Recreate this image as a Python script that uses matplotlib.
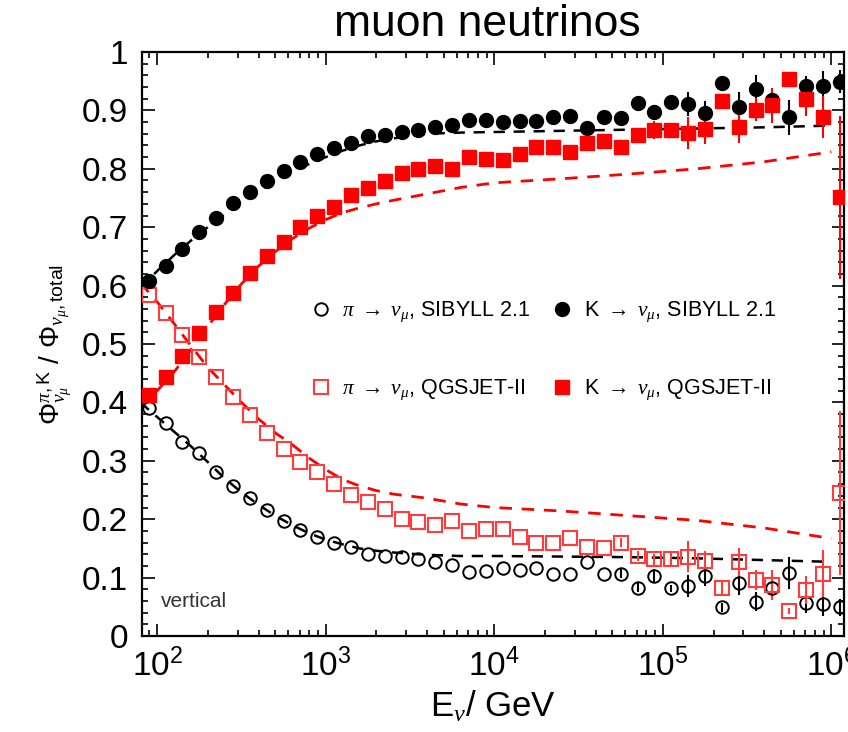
import numpy as np
import matplotlib
matplotlib.use("Agg")
import matplotlib.pyplot as plt
from matplotlib.lines import Line2D
from matplotlib.ticker import LogLocator, MultipleLocator, FixedLocator

plt.rcParams['font.family'] = ['Liberation Sans', 'DejaVu Sans']
plt.rcParams['mathtext.fontset'] = 'custom'
plt.rcParams['mathtext.rm'] = 'Liberation Sans'
plt.rcParams['mathtext.it'] = 'Liberation Serif:italic'
plt.rcParams['mathtext.sf'] = 'Liberation Sans'
plt.rcParams['mathtext.bf'] = 'Liberation Sans:bold'

# bin centres (GeV)
energy = [89.1, 112.2, 141.3, 177.8, 223.9, 281.8, 354.8, 446.7, 562.3, 707.9,
          891.3, 1122, 1413, 1778, 2239, 2818, 3548, 4467, 5623, 7079,
          8913, 11220, 14125, 17783, 22387, 28184, 35481, 44668, 56234, 70795,
          89125, 112202, 141254, 177828, 223872, 281838, 354813, 446684, 562341, 707946,
          891251, 1122018]

k_sibyll = [0.608, 0.634, 0.662, 0.692, 0.716, 0.742, 0.760, 0.779, 0.797, 0.812,
            0.825, 0.835, 0.844, 0.856, 0.858, 0.863, 0.866, 0.871, 0.875, 0.884,
            0.884, 0.880, 0.882, 0.881, 0.888, 0.890, 0.870, 0.889, 0.887, 0.913,
            0.897, 0.914, 0.911, 0.896, 0.947, 0.905, 0.937, 0.917, 0.888, 0.941,
            0.941, 0.949]
k_sibyll_err = [0, 0, 0, 0, 0, 0, 0, 0, 0, 0,
                0, 0, 0, 0, 0, 0, 0, 0, 0, 0,
                0, 0, 0, 0, 0, 0, 0, 0, 0.008, 0.008,
                0.010, 0.008, 0.020, 0.020, 0.010, 0.027, 0.023, 0.012, 0.030, 0.018,
                0.026, 0.020]

k_qgsjet = [0.413, 0.444, 0.479, 0.518, 0.554, 0.588, 0.621, 0.651, 0.675, 0.700,
            0.719, 0.735, 0.755, 0.767, 0.779, 0.793, 0.800, 0.805, 0.799, 0.820,
            0.816, 0.815, 0.826, 0.837, 0.837, 0.829, 0.844, 0.848, 0.837, 0.858,
            0.866, 0.866, 0.861, 0.869, 0.916, 0.871, 0.901, 0.909, 0.953, 0.919,
            0.889, 0.751]
k_qgsjet_err = [0, 0, 0, 0, 0, 0, 0, 0, 0, 0,
                0, 0, 0, 0, 0, 0, 0, 0, 0, 0,
                0, 0, 0, 0, 0, 0, 0, 0, 0.008, 0.010,
                0.015, 0.013, 0.027, 0.026, 0.012, 0.027, 0.020, 0.030, 0.006, 0.028,
                0.036, 0.140]

pi_sibyll = [0.390, 0.364, 0.333, 0.313, 0.280, 0.256, 0.237, 0.216, 0.197, 0.182,
             0.169, 0.160, 0.152, 0.140, 0.137, 0.135, 0.131, 0.126, 0.122, 0.110,
             0.112, 0.116, 0.113, 0.116, 0.107, 0.106, 0.127, 0.106, 0.107, 0.083,
             0.102, 0.082, 0.086, 0.102, 0.049, 0.091, 0.059, 0.082, 0.108, 0.056,
             0.055, 0.049]
pi_sibyll_err = [0, 0, 0, 0, 0, 0, 0, 0, 0, 0,
                 0, 0, 0, 0, 0, 0, 0, 0, 0, 0,
                 0, 0, 0, 0, 0, 0, 0, 0, 0.007, 0.008,
                 0.012, 0.006, 0.019, 0.016, 0.008, 0.021, 0.017, 0.021, 0.027, 0.016,
                 0.021, 0.015]

pi_qgsjet = [0.584, 0.553, 0.515, 0.478, 0.444, 0.410, 0.378, 0.347, 0.321, 0.298,
             0.280, 0.260, 0.241, 0.230, 0.217, 0.201, 0.196, 0.190, 0.197, 0.179,
             0.183, 0.183, 0.170, 0.160, 0.160, 0.167, 0.153, 0.150, 0.160, 0.137,
             0.131, 0.131, 0.136, 0.129, 0.082, 0.126, 0.096, 0.087, 0.043, 0.078,
             0.107, 0.245]
pi_qgsjet_err = [0, 0, 0, 0, 0, 0, 0, 0, 0, 0,
                 0, 0, 0, 0, 0, 0, 0, 0, 0, 0,
                 0, 0, 0, 0, 0, 0, 0, 0, 0.007, 0.008,
                 0.010, 0.013, 0.027, 0.017, 0.014, 0.024, 0.017, 0.026, 0.005, 0.024,
                 0.041, 0.140]

# model curves (dashed)
model_energy = [79.4, 100, 125.9, 158.5, 199.5, 251.2, 316.2, 398.1, 501.2, 631.0,
                794.3, 1000, 1259, 1585, 1995, 2512, 3981, 6310, 10000, 25119,
                63096, 158489, 398107, 1000000]
model_k_sibyll = [0.595, 0.625, 0.652, 0.677, 0.700, 0.722, 0.743, 0.762, 0.779, 0.795,
                  0.808, 0.820, 0.831, 0.840, 0.847, 0.852, 0.860, 0.862, 0.863, 0.865,
                  0.867, 0.869, 0.871, 0.874]
model_k_qgsjet = [0.390, 0.420, 0.452, 0.490, 0.530, 0.568, 0.603, 0.633, 0.658, 0.680,
                  0.698, 0.713, 0.725, 0.733, 0.740, 0.746, 0.757, 0.768, 0.776, 0.783,
                  0.791, 0.800, 0.812, 0.829]
model_pi_sibyll = [0.400, 0.375, 0.350, 0.325, 0.298, 0.270, 0.246, 0.225, 0.206, 0.190,
                   0.176, 0.165, 0.157, 0.150, 0.146, 0.143, 0.139, 0.137, 0.137, 0.136,
                   0.135, 0.133, 0.130, 0.127]
model_pi_qgsjet = [0.605, 0.572, 0.535, 0.497, 0.460, 0.430, 0.400, 0.372, 0.348, 0.328,
                   0.305, 0.285, 0.268, 0.257, 0.249, 0.243, 0.236, 0.226, 0.220, 0.214,
                   0.206, 0.198, 0.185, 0.167]

RED = '#ff0000'
RED_OPEN = '#ff3c3c'

fig = plt.figure(figsize=(8.48, 7.32), dpi=100)
ax = fig.add_axes([142 / 848, 1 - 636 / 732, (844 - 142) / 848, (636 - 52) / 732])

dash = (4.5, 3.5)
ax.plot(model_energy, model_k_sibyll, color='black', lw=1.8, dashes=dash, zorder=2)
ax.plot(model_energy, model_pi_sibyll, color='black', lw=1.8, dashes=dash, zorder=2)
ax.plot(model_energy, model_k_qgsjet, color=RED, lw=2.0, dashes=dash, zorder=2)
ax.plot(model_energy, model_pi_qgsjet, color=RED, lw=2.0, dashes=dash, zorder=2)

ax.errorbar(energy, pi_sibyll, yerr=pi_sibyll_err, fmt='o', ms=9, mfc='none', mec='black',
            mew=1.4, ecolor='black', elinewidth=1.5, capsize=0, zorder=4)
ax.errorbar(energy, pi_qgsjet, yerr=pi_qgsjet_err, fmt='s', ms=10, mfc='none', mec=RED_OPEN,
            mew=1.5, ecolor=RED_OPEN, elinewidth=1.5, capsize=0, zorder=4)
ax.errorbar(energy, k_sibyll, yerr=k_sibyll_err, fmt='o', ms=10, mfc='black', mec='black',
            ecolor='black', elinewidth=1.5, capsize=0, zorder=5)
ax.errorbar(energy, k_qgsjet, yerr=k_qgsjet_err, fmt='s', ms=9.5, mfc=RED, mec=RED,
            ecolor=RED, elinewidth=1.5, capsize=0, zorder=5)

ax.set_xscale('log')
ax.set_xlim(10 ** 1.91, 10 ** 6.075)
ax.set_ylim(0, 1)

ax.xaxis.set_major_locator(LogLocator(base=10, numticks=10))
ax.xaxis.set_minor_locator(LogLocator(base=10, subs=np.arange(2, 10), numticks=20))
ax.yaxis.set_major_locator(FixedLocator([0, 0.1, 0.2, 0.3, 0.4, 0.5, 0.6, 0.7, 0.8, 0.9, 1.0]))
ax.yaxis.set_minor_locator(MultipleLocator(0.02))
ax.set_yticklabels(['0', '0.1', '0.2', '0.3', '0.4', '0.5', '0.6', '0.7', '0.8', '0.9', '1'])

ax.tick_params(which='both', direction='in', top=True, right=True, labelsize=24,
               width=1.2, color='black')
ax.tick_params(which='major', length=9)
ax.tick_params(which='minor', length=4.5)
ax.tick_params(axis='y', pad=10)
ax.tick_params(axis='x', pad=9)
for s in ax.spines.values():
    s.set_linewidth(1.6)

ax.set_xlabel(r'E$_{\nu}$/ GeV', fontsize=25, labelpad=4)
ax.set_ylabel(r'$\mathrm{\Phi}^{\pi,\mathrm{K}}_{\nu_{\mu}}$ / '
              r'$\mathrm{\Phi}_{\nu_{\mu},\mathrm{total}}$',
              fontsize=20, labelpad=6)

fig.text(487 / 848, 1 - 25 / 732, 'muon neutrinos', ha='center', va='center', fontsize=32)

ax.text(0.027, 0.05, 'vertical', transform=ax.transAxes, fontsize=15, color='#333333')

handles = [
    Line2D([], [], ls='none', marker='o', ms=9, mfc='none', mec='black', mew=1.4),
    Line2D([], [], ls='none', marker='s', ms=10, mfc='none', mec=RED_OPEN, mew=1.5),
    Line2D([], [], ls='none', marker='o', ms=10, mfc='black', mec='black'),
    Line2D([], [], ls='none', marker='s', ms=9.5, mfc=RED, mec=RED),
]
labels = [r'$\pi\ \rightarrow\ \nu_{\mu}$, SIBYLL 2.1',
          r'$\pi\ \rightarrow\ \nu_{\mu}$, QGSJET-II',
          r'K $\rightarrow\ \nu_{\mu}$, SIBYLL 2.1',
          r'K $\rightarrow\ \nu_{\mu}$, QGSJET-II']
ax.legend(handles, labels, ncol=2, loc='center left', bbox_to_anchor=(0.239, 0.488),
          frameon=False, fontsize=15.5, handlelength=1.0, handletextpad=0.5,
          labelspacing=2.5, columnspacing=1.0, borderpad=0, borderaxespad=0)

fig.savefig('out.png', dpi=100)
